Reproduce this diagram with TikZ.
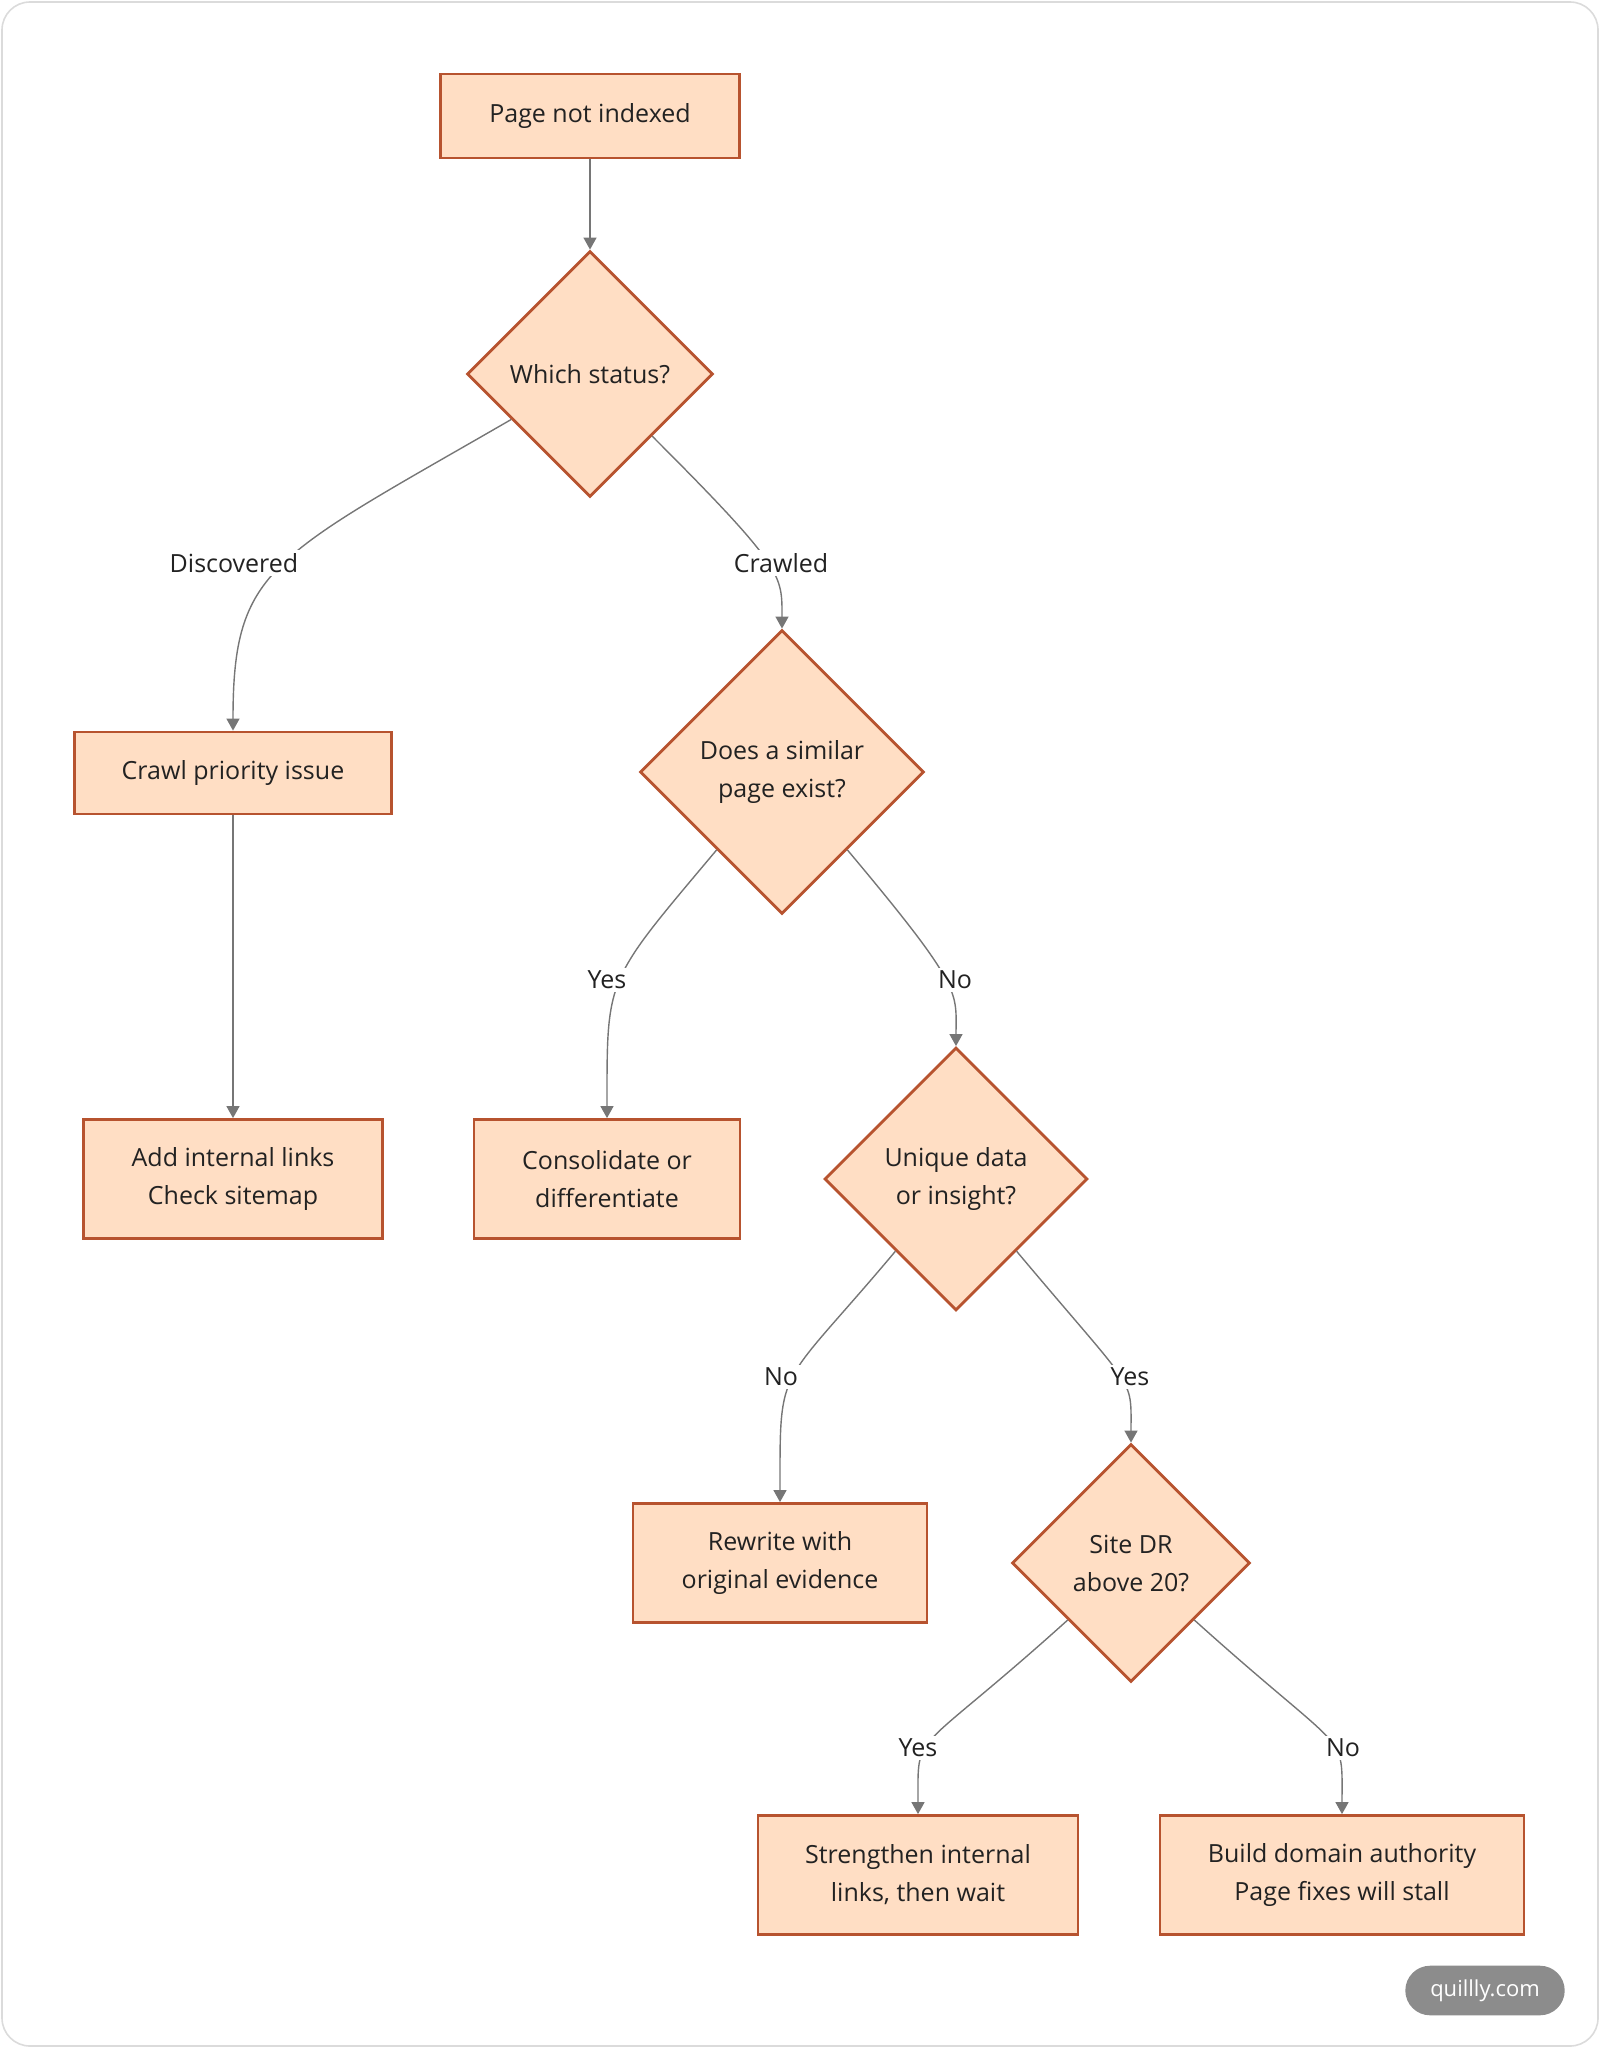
\documentclass[tikz,border=0pt]{standalone}
\usepackage{fontspec}
\setmainfont{Open Sans}
\usepackage{tikz}
\usetikzlibrary{shapes.geometric}
\usetikzlibrary{arrows.meta}
\definecolor{boxfill}{HTML}{FFDEC4}
\definecolor{boxline}{HTML}{B7532F}
\definecolor{flowgray}{HTML}{767676}
\definecolor{inkdark}{HTML}{222222}

\begin{document}
\begin{tikzpicture}[
    x=0.5pt, y=0.5pt,
    every node/.style={font=\fontsize{12.5}{19}\selectfont, text=inkdark, align=center},
    stepbox/.style={draw=boxline, fill=boxfill, line width=1.4pt, inner sep=0pt},
    choice/.style={diamond, draw=boxline, fill=boxfill, line width=1.4pt, inner sep=0pt, aspect=1},
    lbl/.style={fill=white, inner sep=1.5pt},
    flow/.style={draw=flowgray, line width=0.7pt, -{Triangle[width=6.5pt,length=6pt]}},
]
    \useasboundingbox (0,0) rectangle (1600,-2048);
    \draw[draw=black!14, line width=0.8pt, rounded corners=14pt] (2,-2) rectangle (1598,-2046);

    % nodes
    \node (start) at (590,-116) [stepbox, minimum width=149.5pt, minimum height=42pt] {Page not indexed};
    \node (status) at (590,-374) [choice, minimum size=123pt] {Which status?};
    \node (crawl) at (233,-773) [stepbox, minimum width=158.7pt, minimum height=41pt] {Crawl priority issue};
    \node (similar) at (782,-772) [choice, minimum size=142pt] {Does a similar\\page exist?};
    \node (links) at (233,-1179) [stepbox, minimum width=149.5pt, minimum height=59.5pt] {Add internal links\\Check sitemap};
    \node (consol) at (607,-1179) [stepbox, minimum width=133pt, minimum height=59.5pt] {Consolidate or\\differentiate};
    \node (unique) at (956,-1179) [choice, minimum size=131.5pt] {Unique data\\or insight?};
    \node (rewrite) at (780,-1563) [stepbox, minimum width=147pt, minimum height=59.5pt] {Rewrite with\\original evidence};
    \node (sitedr) at (1131,-1563) [choice, minimum size=119pt] {Site DR\\above 20?};
    \node (strengthen) at (918,-1875) [stepbox, minimum width=160pt, minimum height=59.5pt] {Strengthen internal\\links, then wait};
    \node (authority) at (1342,-1875) [stepbox, minimum width=182pt, minimum height=59.5pt] {Build domain authority\\Page fixes will stall};

    % connectors
    \draw[flow] (start) -- (status);
    \draw[flow] (status) to[out=210, in=90, out looseness=1.7, in looseness=1.0] (crawl);
    \draw[flow] (status) to[out=315, in=90, out looseness=2.07, in looseness=0.59] (similar);
    \draw[flow] (crawl) -- (links);
    \draw[flow] (similar) to[out=230, in=90, out looseness=1.53, in looseness=1.26] (consol);
    \draw[flow] (similar) to[out=310, in=90, out looseness=2.07, in looseness=0.62] (unique);
    \draw[flow] (unique) to[out=230, in=90, out looseness=1.7, in looseness=1.31] (rewrite);
    \draw[flow] (unique) to[out=310, in=90, out looseness=2.15, in looseness=0.77] (sitedr);
    \draw[flow] (sitedr) to[out=222, in=90, out looseness=2.2, in looseness=0.9] (strengthen);
    \draw[flow] (sitedr) to[out=318, in=90, out looseness=2.2, in looseness=0.9] (authority);

    % edge labels
    \node (discovered) at (234,-563) [lbl] {Discovered};
    \node (crawled) at (781,-563) [lbl] {Crawled};
    \node (simyes) at (607,-980) [lbl] {Yes};
    \node (simno) at (955,-980) [lbl] {No};
    \node (uniqno) at (781,-1377) [lbl] {No};
    \node (uniqyes) at (1130,-1377) [lbl] {Yes};
    \node (dryes) at (918,-1748) [lbl] {Yes};
    \node (drno) at (1343,-1748) [lbl] {No};

    % badge
    \node (badge) at (1485,-1990.5) [fill=black!45, rounded corners=12.4pt, minimum width=79.7pt, minimum height=24.8pt, inner sep=0pt, text=white, font=\fontsize{11}{13}\selectfont] {quillly.com};
\end{tikzpicture}
\end{document}
